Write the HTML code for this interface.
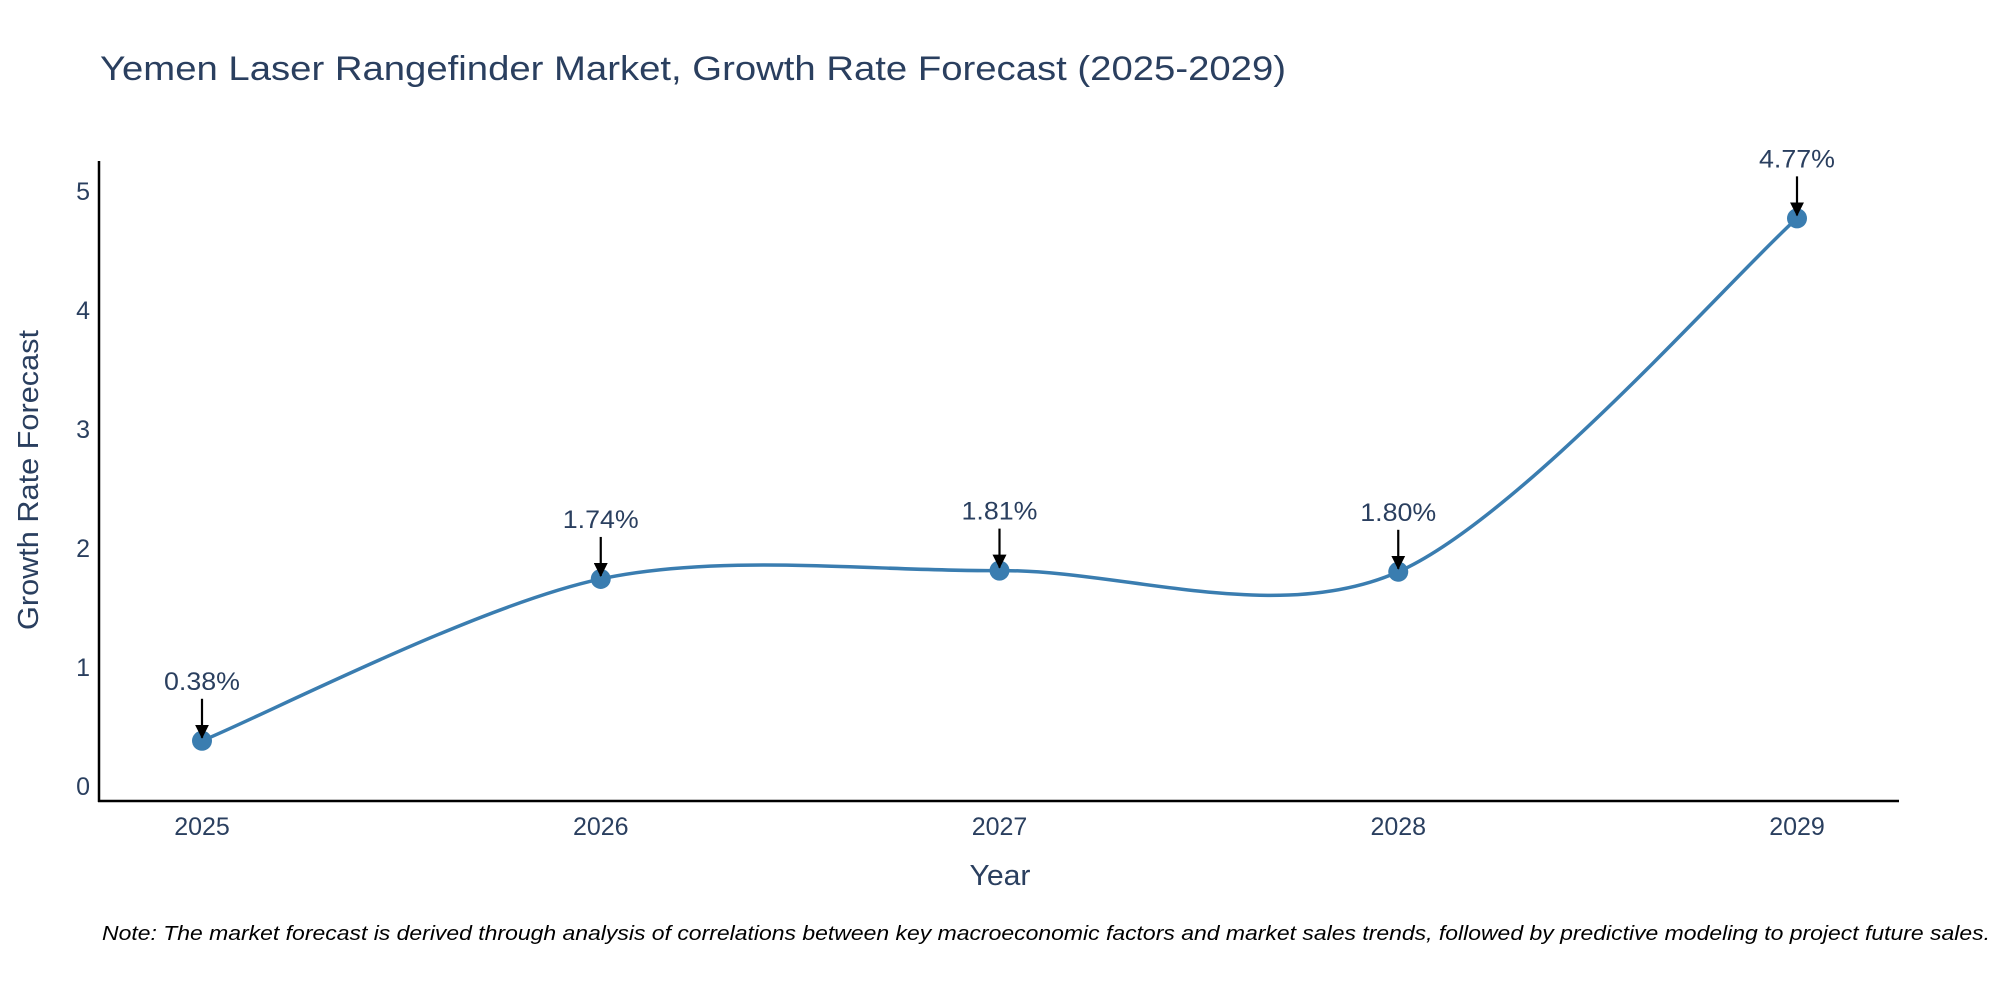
<!DOCTYPE html>
<html><head><meta charset="utf-8"><style>
html,body{margin:0;padding:0;background:#fff;}
svg{display:block;font-family:"Liberation Sans",Arial,sans-serif;}
</style></head><body>
<svg id="chart" width="2000" height="1000" viewBox="0 0 2000 1000" xmlns="http://www.w3.org/2000/svg">
<defs><marker id="ah" markerWidth="14" markerHeight="14" refX="13" refY="7" orient="auto" markerUnits="userSpaceOnUse" viewBox="0 0 14 14"><path d="M0,0 L14,7 L0,14 z" fill="#000"/></marker></defs>
<text x="100" y="80" font-size="34" fill="#2a3f5f" textLength="1186" lengthAdjust="spacingAndGlyphs">Yemen Laser Rangefinder Market, Growth Rate Forecast (2025-2029)</text>
<g id="yticks"></g><g id="xticks"></g>
<line x1="99" y1="161" x2="99" y2="802" stroke="#000" stroke-width="2.5"/>
<line x1="98" y1="801" x2="1899" y2="801" stroke="#000" stroke-width="2.5"/>
<text transform="translate(38,480) rotate(-90)" text-anchor="middle" font-size="29" fill="#2a3f5f" textLength="300" lengthAdjust="spacingAndGlyphs">Growth Rate Forecast</text>
<text x="1000" y="885" text-anchor="middle" font-size="29" fill="#2a3f5f" textLength="61" lengthAdjust="spacingAndGlyphs">Year</text>
<g id="plot"></g>
<text x="102" y="940" font-size="20" font-style="italic" fill="#000" textLength="1888" lengthAdjust="spacingAndGlyphs">Note: The market forecast is derived through analysis of correlations between key macroeconomic factors and market sales trends, followed by predictive modeling to project future sales.</text>
</svg>
<script>
const years = ["2025","2026","2027","2028","2029"];
const growth = [0.38, 1.74, 1.81, 1.80, 4.77];
const labels = ["0.38%","1.74%","1.81%","1.80%","4.77%"];
const yTickVals = [0,1,2,3,4,5];

const NS="http://www.w3.org/2000/svg";
const xs = i => 202 + i*(1797-202)/(years.length-1);
const ys = v => 786 - v*119;
function mk(tag, attrs, parent, txt){const e=document.createElementNS(NS,tag);for(const k in attrs)e.setAttribute(k,attrs[k]);if(txt!=null)e.textContent=txt;parent.appendChild(e);return e;}
const yt=document.getElementById('yticks'), xt=document.getElementById('xticks'), pl=document.getElementById('plot');
yTickVals.forEach(v=>{const t=mk('text',{x:90,y:ys(v)+9,'text-anchor':'end','font-size':25,fill:'#2a3f5f'},yt,String(v));

});
years.forEach((y,i)=>{const t=mk('text',{x:xs(i),y:835,'text-anchor':'middle','font-size':25,fill:'#2a3f5f'},xt,y);

});
const P=growth.map((v,i)=>[xs(i),ys(v)]);
const k=6.5;
let d=`M${P[0][0]},${P[0][1]}`;
for(let i=0;i<P.length-1;i++){
  const p0=P[Math.max(i-1,0)],p1=P[i],p2=P[i+1],p3=P[Math.min(i+2,P.length-1)];
  const c1=[p1[0]+(p2[0]-p0[0])/k,p1[1]+(p2[1]-p0[1])/k];
  const c2=[p2[0]-(p3[0]-p1[0])/k,p2[1]-(p3[1]-p1[1])/k];
  d+=` C${c1[0]},${c1[1]} ${c2[0]},${c2[1]} ${p2[0]},${p2[1]}`;
}
const line=mk('path',{d:d,fill:'none',stroke:'#3a7db0','stroke-width':3.5},pl);


P.forEach((p,i)=>{
  const c=mk('circle',{cx:p[0],cy:p[1],r:10,fill:'#3a7db0'},pl);
  
  
  const a=mk('line',{x1:p[0],y1:p[1]-42,x2:p[0],y2:p[1]-3,stroke:'#000','stroke-width':2.2,'marker-end':'url(#ah)'},pl);
  
  
  const t=mk('text',{x:p[0],y:p[1]-51,'text-anchor':'middle','font-size':25,fill:'#2a3f5f',textLength:76,lengthAdjust:'spacingAndGlyphs'},pl,labels[i]);
  
  
});
</script>
</body></html>
